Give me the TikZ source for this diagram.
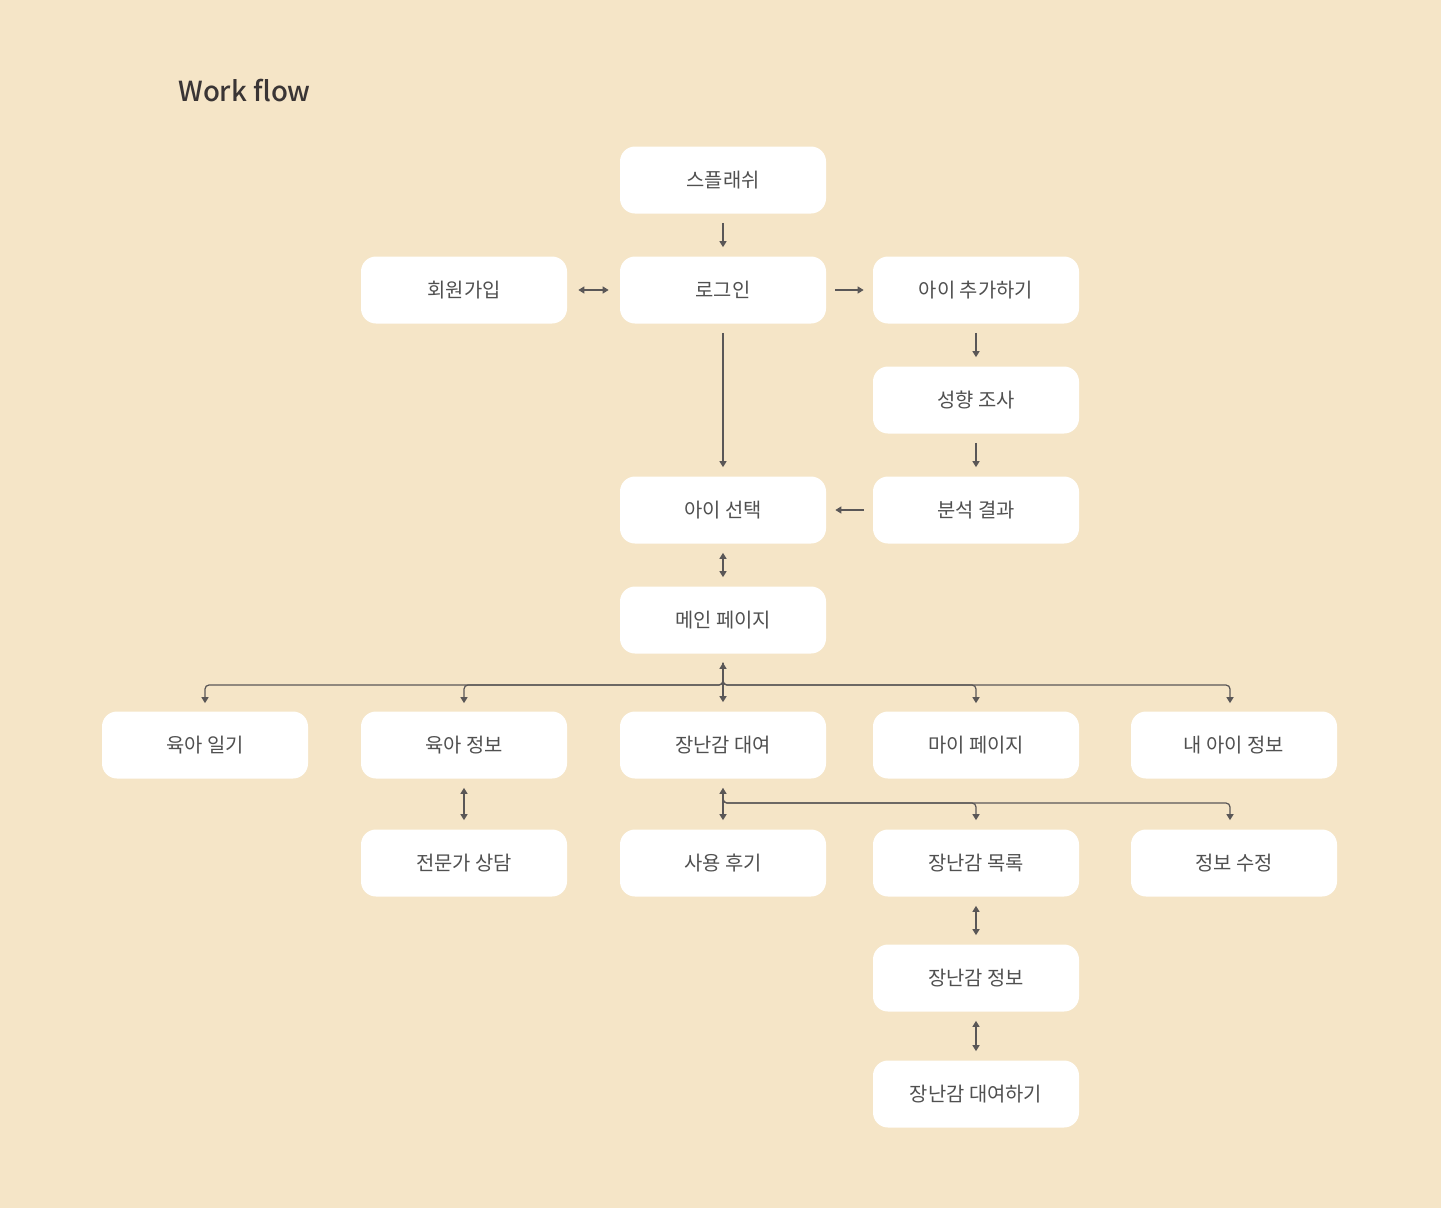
\documentclass[tikz,border=0pt]{standalone}
\usepackage{fontspec}
\setmainfont{Noto Sans CJK KR}
\newfontfamily\titlefont{Noto Sans CJK KR Medium}
\usetikzlibrary{arrows.meta}
\definecolor{bg-beige}{HTML}{F5E5C7}
\definecolor{box-text}{HTML}{505050}
\definecolor{title-text}{HTML}{3A3535}
\definecolor{line-grey}{HTML}{5A5757}
\newlength{\basisa}
\setlength{\basisa}{0.02cm}
\tikzset{
  box/.style={minimum height=67\basisa, minimum width=206\basisa, fill=white,
    rounded corners=15\basisa, text=box-text, font=\fontsize{11.3pt}{13pt}\selectfont},
  link/.style={draw=line-grey, line width=0.7pt, >={Triangle[length=3.4pt,width=4pt]},
    rounded corners=4\basisa},
  gap/.style={shorten >=9\basisa, shorten <=9\basisa}
}

\begin{document}
\begin{tikzpicture}
    \fill[bg-beige] (0,0) rectangle (1441\basisa,-1208\basisa);
    \useasboundingbox (0,0) rectangle (1441\basisa,-1208\basisa);

    \draw (178\basisa,-91\basisa) 
		node[anchor=west, inner sep=0pt, text=title-text, font=\fontsize{15.7pt}{18pt}\titlefont] 
			(Title) {Work flow};

    \draw (723\basisa,-180\basisa) node[box] (Splash) {스플래쉬};
    \draw (464\basisa,-290\basisa) node[box] (SignUp) {회원가입};
    \draw (723\basisa,-290\basisa) node[box] (Login) {로그인};
    \draw (976\basisa,-290\basisa) node[box] (AddChild) {아이 추가하기};
    \draw (976\basisa,-400\basisa) node[box] (Survey) {성향 조사};
    \draw (976\basisa,-510\basisa) node[box] (Result) {분석 결과};
    \draw (723\basisa,-510\basisa) node[box] (SelectChild) {아이 선택};
    \draw (723\basisa,-620\basisa) node[box] (MainPage) {메인 페이지};

    \draw (205\basisa,-745\basisa) node[box] (Diary) {육아 일기};
    \draw (464\basisa,-745\basisa) node[box] (ParentInfo) {육아 정보};
    \draw (723\basisa,-745\basisa) node[box] (ToyRental) {장난감 대여};
    \draw (976\basisa,-745\basisa) node[box] (MyPage) {마이 페이지};
    \draw (1234\basisa,-745\basisa) node[box] (ChildInfo) {내 아이 정보};

    \draw (464\basisa,-863\basisa) node[box] (Consult) {전문가 상담};
    \draw (723\basisa,-863\basisa) node[box] (Review) {사용 후기};
    \draw (976\basisa,-863\basisa) node[box] (ToyList) {장난감 목록};
    \draw (1234\basisa,-863\basisa) node[box] (EditInfo) {정보 수정};
    \draw (976\basisa,-978\basisa) node[box] (ToyInfo) {장난감 정보};
    \draw (976\basisa,-1094\basisa) node[box] (ToyRent) {장난감 대여하기};

    \coordinate (MainFork) at (723\basisa,-685\basisa);
    \coordinate (ToyFork) at (723\basisa,-803\basisa);

	\draw[->, link, gap] (Splash) -- (Login);
	\draw[<->, link, shorten >=11\basisa, shorten <=11\basisa] (SignUp) -- (Login);
	\draw[->, link, gap] (Login) -- (AddChild);
	\draw[->, link, gap] (Login) -- (SelectChild);
	\draw[->, link, gap] (AddChild) -- (Survey);
	\draw[->, link, gap] (Survey) -- (Result);
	\draw[->, link, gap] (Result) -- (SelectChild);
	\draw[<->, link, gap] (SelectChild) -- (MainPage);

	\draw[<->, link, gap] (MainPage) -- (ToyRental);
	\draw[->, link, shorten >=8\basisa] ([yshift=-9\basisa]MainPage.south) |- (Diary.north |- MainFork) -- (Diary);
	\draw[->, link, shorten >=8\basisa] ([yshift=-9\basisa]MainPage.south) |- (ParentInfo.north |- MainFork) -- (ParentInfo);
	\draw[->, link, shorten >=8\basisa] ([yshift=-9\basisa]MainPage.south) |- (MyPage.north |- MainFork) -- (MyPage);
	\draw[->, link, shorten >=8\basisa] ([yshift=-9\basisa]MainPage.south) |- ([xshift=-4\basisa]ChildInfo.north |- MainFork) -- ([xshift=-4\basisa]ChildInfo.north);

	\draw[<->, link, gap] (ParentInfo) -- (Consult);
	\draw[<->, link, gap] (ToyRental) -- (Review);
	\draw[->, link, shorten >=9\basisa] ([yshift=-10\basisa]ToyRental.south) |- (ToyList.north |- ToyFork) -- (ToyList);
	\draw[->, link, shorten >=9\basisa] ([yshift=-10\basisa]ToyRental.south) |- ([xshift=-4\basisa]EditInfo.north |- ToyFork) -- ([xshift=-4\basisa]EditInfo.north);
	\draw[<->, link, gap] (ToyList) -- (ToyInfo);
	\draw[<->, link, gap] (ToyInfo) -- (ToyRent);
\end{tikzpicture}
\end{document}
